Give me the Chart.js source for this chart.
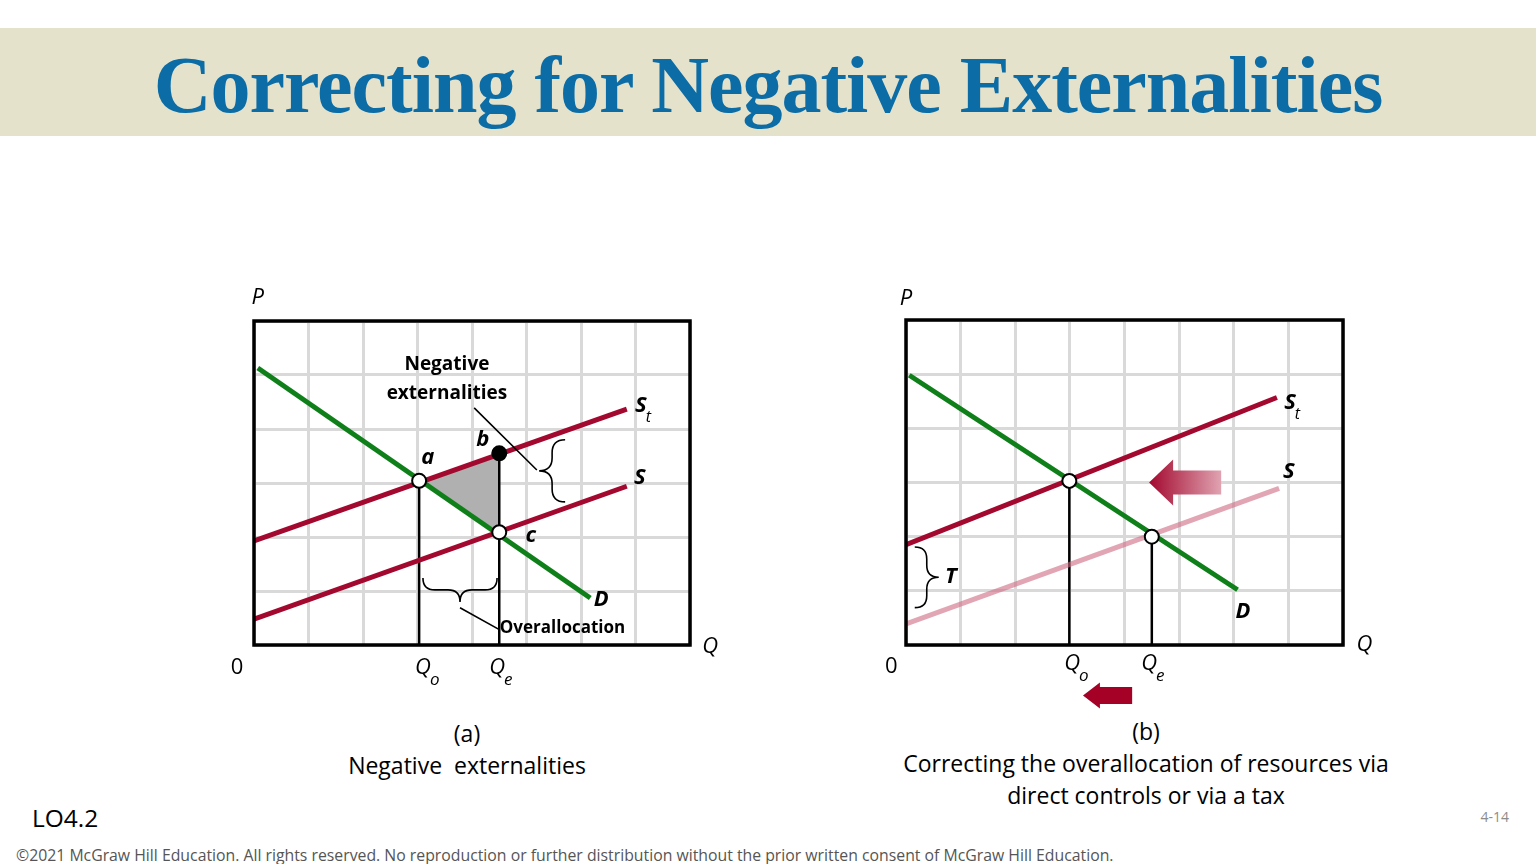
<!DOCTYPE html>
<html>
<head>
<meta charset="utf-8">
<script src="https://cdn.jsdelivr.net/npm/chart.js@4.4.1/dist/chart.umd.min.js"></script>
<style>
  body { margin: 0; width: 1536px; height: 864px; background: #fff; position: relative; overflow: hidden; font-family: "Open Sans", sans-serif; }
  .band { position: absolute; left: 0; top: 28px; width: 1536px; height: 108px; background: #e5e2cc; }
  .title { position: absolute; left: 0; top: 45px; width: 1536px; text-align: center; font-family: "Liberation Serif", serif; font-weight: bold; font-size: 80px; line-height: 80px; letter-spacing: -1px; color: #0b6ca6; white-space: nowrap; }
  .box { position: absolute; width: 540px; height: 440px; top: 270px; }
  .cap { position: absolute; text-align: center; font-size: 23px; line-height: 32px; color: #000; white-space: nowrap; }
  .lo { position: absolute; left: 32px; top: 802px; font-size: 24.5px; line-height: 32px; }
  .pg { position: absolute; right: 27px; top: 809px; font-size: 14px; line-height: 16px; color: #8c8c8c; }
  .copy { position: absolute; left: 16px; top: 845px; font-size: 15.8px; line-height: 20px; color: #555; white-space: nowrap; }
</style>
</head>
<body>
<div class="band"></div>
<div class="title">Correcting for Negative Externalities</div>

<div class="box" style="left:200px"><canvas id="chartA" width="540" height="440"></canvas></div>
<div class="box" style="left:852px"><canvas id="chartB" width="540" height="440"></canvas></div>

<div class="cap" style="left:267px;width:400px;top:717px">(a)<br>Negative&nbsp; externalities</div>
<div class="cap" style="left:896px;width:500px;top:715px">(b)<br>Correcting the overallocation of resources via<br>direct controls or via a tax</div>

<div class="lo">LO4.2</div>
<div class="pg">4-14</div>
<div class="copy">©2021 McGraw Hill Education. All rights reserved. No reproduction or further distribution without the prior written consent of McGraw Hill Education.</div>

<script>
// grid size (in grid units)
const gridCols = 8;
const gridRows = 6;

// panel (a): negative externalities
const demandA = [[0.07, 5.13], [6.17, 0.87]];
const supplyTaxA = [[0, 1.93], [6.84, 4.37]];
const supplyA = [[0, 0.48], [6.84, 2.94]];
const pointA = [3.03, 3.04];
const pointB = [4.5, 3.55];
const pointC = [4.5, 2.09];

// panel (b): correction via tax
const demandB = [[0.06, 4.98], [6.07, 1.02]];
const supplyTaxB = [[0, 1.85], [6.79, 4.57]];
const supplyB = [[0, 0.39], [6.83, 2.89]];
const optimumB = [2.99, 3.03];
const marketB = [4.5, 2.0];

const RED = '#a3092f';
const GREEN = '#0f7f1a';
const PINK = 'rgba(205,105,130,0.6)';
const GRID = '#d9d9d9';

function pts(arr) { return arr.map(p => ({ x: p[0], y: p[1] })); }
function vline(p) { return [{ x: p[0], y: 0 }, { x: p[0], y: p[1] }]; }

function lineDs(data, color, width) {
  return { data: data, showLine: true, borderColor: color, borderWidth: width, pointRadius: 0, borderCapStyle: 'butt', fill: false };
}
function dotDs(data, fillColor) {
  return { data: data, showLine: false, pointRadius: 7, pointHoverRadius: 7, pointBackgroundColor: fillColor, pointBorderColor: '#000', pointBorderWidth: 2 };
}

function label(ctx, text, x, y, font, align) {
  ctx.font = font;
  ctx.fillStyle = '#000';
  ctx.textAlign = align || 'center';
  ctx.textBaseline = 'middle';
  ctx.fillText(text, x, y);
}
function subLabel(ctx, main, sub, x, y, mainFont, subFont) {
  label(ctx, main, x, y, mainFont);
  ctx.font = mainFont;
  const w = ctx.measureText(main).width;
  label(ctx, sub, x + w / 2 - 1, y + 12, subFont, 'left');
}

// curly brace, vertical; dir = -1 tip points left, +1 tip points right
function braceV(ctx, x, y1, y2, dir, w) {
  const ym = (y1 + y2) / 2;
  ctx.beginPath();
  ctx.moveTo(x - dir * w, y1);
  ctx.quadraticCurveTo(x, y1, x, y1 + w);
  ctx.lineTo(x, ym - w);
  ctx.quadraticCurveTo(x, ym, x + dir * w, ym);
  ctx.quadraticCurveTo(x, ym, x, ym + w);
  ctx.lineTo(x, y2 - w);
  ctx.quadraticCurveTo(x, y2, x - dir * w, y2);
  ctx.stroke();
}
// curly brace, horizontal; dir = +1 tip points down
function braceH(ctx, y, x1, x2, dir, w) {
  const xm = (x1 + x2) / 2;
  ctx.beginPath();
  ctx.moveTo(x1, y - dir * w);
  ctx.quadraticCurveTo(x1, y, x1 + w, y);
  ctx.lineTo(xm - w, y);
  ctx.quadraticCurveTo(xm, y, xm, y + dir * w);
  ctx.quadraticCurveTo(xm, y, xm + w, y);
  ctx.lineTo(x2 - w, y);
  ctx.quadraticCurveTo(x2, y, x2, y - dir * w);
  ctx.stroke();
}
function arrowLeft(ctx, tipX, y, headX, endX, headH, shaftH) {
  ctx.beginPath();
  ctx.moveTo(tipX, y);
  ctx.lineTo(headX, y - headH);
  ctx.lineTo(headX, y - shaftH);
  ctx.lineTo(endX, y - shaftH);
  ctx.lineTo(endX, y + shaftH);
  ctx.lineTo(headX, y + shaftH);
  ctx.lineTo(headX, y + headH);
  ctx.closePath();
  ctx.fill();
}

function baseOptions(padding) {
  return {
    responsive: false,
    animation: false,
    events: [],
    layout: { padding: padding },
    plugins: { legend: { display: false }, tooltip: { enabled: false } },
    scales: {
      x: { type: 'linear', min: 0, max: gridCols, ticks: { display: false, stepSize: 1 },
           grid: { color: GRID, lineWidth: 3, drawTicks: false }, border: { display: false } },
      y: { type: 'linear', min: 0, max: gridRows, ticks: { display: false, stepSize: 1 },
           grid: { color: GRID, lineWidth: 3, drawTicks: false }, border: { display: false } }
    }
  };
}

function frame(chart) {
  const ctx = chart.ctx, X = chart.scales.x, Y = chart.scales.y;
  ctx.save();
  ctx.strokeStyle = '#000';
  ctx.lineWidth = 3.5;
  ctx.strokeRect(X.getPixelForValue(0), Y.getPixelForValue(gridRows),
    X.getPixelForValue(gridCols) - X.getPixelForValue(0), Y.getPixelForValue(0) - Y.getPixelForValue(gridRows));
  ctx.restore();
}

const BI = 'italic bold 22px "Open Sans"';
const IT = 'italic 22px "Open Sans"';
const SUB = 'italic 17px "Open Sans"';
const SUBB = 'italic 16px "Open Sans"';

// ---------- panel (a) ----------
new Chart(document.getElementById('chartA'), {
  type: 'scatter',
  data: {
    datasets: [
      dotDs(pts([pointA, pointC]), '#fff'),
      dotDs(pts([pointB]), '#000'),
      lineDs(pts(demandA), GREEN, 5),
      lineDs(pts(supplyTaxA), RED, 5),
      lineDs(pts(supplyA), RED, 5),
      lineDs(vline(pointA), '#000', 2.5),
      lineDs(vline(pointB), '#000', 2.5)
    ]
  },
  options: baseOptions({ left: 54, top: 51, right: 50, bottom: 65 }),
  plugins: [{
    id: 'panelA',
    beforeDatasetsDraw(chart) {
      const ctx = chart.ctx, X = chart.scales.x, Y = chart.scales.y;
      ctx.save();
      ctx.fillStyle = '#b0b0b0';
      ctx.beginPath();
      [pointA, pointB, pointC].forEach((p, i) => {
        const x = X.getPixelForValue(p[0]), y = Y.getPixelForValue(p[1]);
        if (i === 0) ctx.moveTo(x, y); else ctx.lineTo(x, y);
      });
      ctx.closePath();
      ctx.fill();
      ctx.restore();
    },
    afterDatasetsDraw(chart) { frame(chart); },
    afterDraw(chart) {
      const ctx = chart.ctx, X = chart.scales.x, Y = chart.scales.y;
      const x = v => X.getPixelForValue(v), y = v => Y.getPixelForValue(v);
      ctx.save();
      ctx.strokeStyle = '#000';
      ctx.lineWidth = 1.6;
      // leader lines
      ctx.beginPath();
      ctx.moveTo(x(4.04), y(4.39)); ctx.lineTo(x(5.19), y(3.24));
      ctx.moveTo(x(3.78), y(0.69)); ctx.lineTo(x(4.51), y(0.28));
      ctx.stroke();
      braceV(ctx, x(5.47), y(3.80), y(2.65), -1, 13);
      braceH(ctx, y(1.02), x(3.10), x(4.46), 1, 12);

      label(ctx, 'Negative', x(3.54), y(5.19), 'bold 19px "Open Sans"');
      label(ctx, 'externalities', x(3.54), y(4.65), 'bold 19px "Open Sans"');
      label(ctx, 'Overallocation', x(4.51), y(0.31), 'bold 17px "Open Sans"', 'left');
      subLabel(ctx, 'S', 't', x(7.10), y(4.44), BI, SUBB);
      label(ctx, 'S', x(7.08), y(3.09), BI);
      label(ctx, 'D', x(6.37), y(0.83), BI);
      label(ctx, 'a', x(3.19), y(3.46), BI);
      label(ctx, 'b', x(4.20), y(3.80), BI);
      label(ctx, 'c', x(5.08), y(2.02), BI);
      label(ctx, 'P', x(0.07), y(6.43), IT);
      label(ctx, 'Q', x(8.37), y(-0.04), IT);
      label(ctx, '0', x(-0.31), y(-0.43), '22px "Open Sans"');
      subLabel(ctx, 'Q', 'o', x(3.10), y(-0.43), IT, SUB);
      subLabel(ctx, 'Q', 'e', x(4.46), y(-0.43), IT, SUB);
      ctx.restore();
    }
  }]
});

// ---------- panel (b) ----------
new Chart(document.getElementById('chartB'), {
  type: 'scatter',
  data: {
    datasets: [
      dotDs(pts([optimumB, marketB]), '#fff'),
      lineDs(pts(supplyB), PINK, 5),
      lineDs(pts(demandB), GREEN, 5),
      lineDs(pts(supplyTaxB), RED, 5),
      lineDs(vline(optimumB), '#000', 2.5),
      lineDs(vline(marketB), '#000', 2.5)
    ]
  },
  options: baseOptions({ left: 54, top: 50, right: 49, bottom: 65 }),
  plugins: [{
    id: 'panelB',
    afterDatasetsDraw(chart) { frame(chart); },
    afterDraw(chart) {
      const ctx = chart.ctx, X = chart.scales.x, Y = chart.scales.y;
      const x = v => X.getPixelForValue(v), y = v => Y.getPixelForValue(v);
      ctx.save();
      ctx.strokeStyle = '#000';
      ctx.lineWidth = 1.6;
      braceV(ctx, x(0.38), y(1.81), y(0.69), 1, 12);

      // shift arrows
      const g = ctx.createLinearGradient(x(4.45), 0, x(5.77), 0);
      g.addColorStop(0, '#a3092f');
      g.addColorStop(1, '#e0a3b1');
      ctx.fillStyle = g;
      arrowLeft(ctx, x(4.45), y(3.0), x(4.89), x(5.77), 23, 12);
      ctx.fillStyle = '#a50026';
      arrowLeft(ctx, x(3.24), y(-0.93), x(3.55), x(4.14), 13, 8.5);

      label(ctx, 'T', x(0.82), y(1.26), BI);
      subLabel(ctx, 'S', 't', x(7.03), y(4.48), BI, SUBB);
      label(ctx, 'S', x(7.01), y(3.19), BI);
      label(ctx, 'D', x(6.17), y(0.61), BI);
      label(ctx, 'P', x(0.0), y(6.39), IT);
      label(ctx, 'Q', x(8.39), y(0), IT);
      label(ctx, '0', x(-0.27), y(-0.41), '22px "Open Sans"');
      subLabel(ctx, 'Q', 'o', x(3.04), y(-0.35), IT, SUB);
      subLabel(ctx, 'Q', 'e', x(4.45), y(-0.35), IT, SUB);
      ctx.restore();
    }
  }]
});
</script>
</body>
</html>
